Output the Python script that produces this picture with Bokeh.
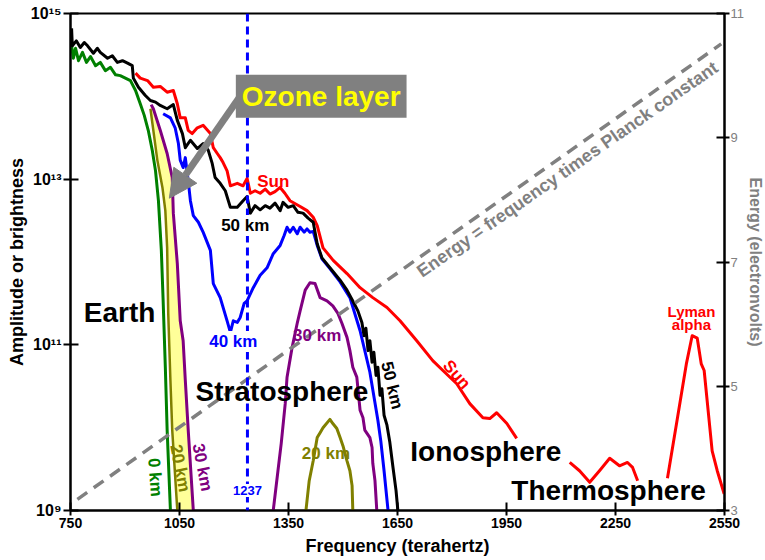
import numpy as np
from bokeh.plotting import figure
from bokeh.models import (Range1d, LinearAxis, LinearScale, FixedTicker, CustomJSTickFormatter,
                          Label, Arrow, NormalHead, Span, Title)
from bokeh.embed import file_html
from bokeh.resources import INLINE

FONT = "Liberation Sans"

# ---------------- data ----------------
freq_ticks = [750, 1050, 1350, 1650, 1950, 2250, 2550]
amp_ticks = [1e9, 1e11, 1e13, 1e15]
energy_ticks = [3, 5, 7, 9, 11]
ionization_freq = 1237

# Earth surface (0 km)
earth_freq = [753, 758, 764, 772, 783, 794, 805, 819, 832, 846, 860, 874, 887, 901, 915, 929,
              942, 953, 964, 975, 984, 992, 1000, 1005, 1011, 1016, 1025]
earth_log_amp = [14.61, 14.46, 14.58, 14.43, 14.53, 14.41, 14.48, 14.37, 14.41, 14.31, 14.35,
                 14.26, 14.25, 14.22, 14.19, 14.07, 13.91, 13.77, 13.59, 13.35, 13.10, 12.74,
                 12.14, 11.53, 10.73, 9.97, 9.00]

# 50 km
km50_freq = [753, 755, 766, 777, 788, 797, 813, 824, 832, 852, 865, 879, 893, 907, 920, 923,
             937, 956, 970, 984, 997, 1016, 1033, 1044, 1058, 1066, 1080, 1099, 1115, 1129,
             1140, 1148, 1162, 1176, 1190, 1209, 1225, 1236, 1245, 1258, 1272, 1286, 1299,
             1313, 1327, 1335, 1349, 1363, 1376, 1390, 1404, 1418, 1429, 1442, 1464, 1492,
             1511, 1527, 1541, 1552, 1558, 1563, 1569, 1574, 1580, 1585, 1591, 1596, 1602,
             1607, 1613, 1621, 1629, 1637, 1646, 1651]
km50_log_amp = [14.82, 14.61, 14.67, 14.59, 14.65, 14.61, 14.52, 14.58, 14.53, 14.46, 14.49,
                14.41, 14.43, 14.40, 14.37, 14.22, 14.11, 14.01, 13.95, 13.93, 13.89, 13.85,
                13.90, 13.71, 13.55, 13.38, 13.47, 13.37, 13.43, 13.35, 13.19, 13.02, 12.95,
                12.86, 12.66, 12.66, 12.74, 12.79, 12.59, 12.68, 12.63, 12.68, 12.65, 12.71,
                12.62, 12.72, 12.66, 12.68, 12.60, 12.59, 12.53, 12.48, 12.22, 12.05, 11.93,
                11.78, 11.66, 11.53, 11.41, 11.27, 11.11, 11.20, 10.93, 11.05, 10.79, 10.91,
                10.63, 10.73, 10.39, 10.47, 10.15, 10.03, 9.82, 9.54, 9.24, 9.00]

# Sun (top of atmosphere)
sun_freq = [929, 942, 962, 978, 997, 1016, 1033, 1044, 1052, 1066, 1074, 1085, 1099, 1115,
            1135, 1143, 1154, 1162, 1170, 1181, 1190, 1209, 1225, 1236, 1245, 1258, 1272,
            1286, 1299, 1313, 1327, 1340, 1354, 1382, 1401, 1418, 1429, 1445, 1473, 1511,
            1547, 1582, 1621, 1657, 1703, 1747, 1775, 1813, 1849, 1885, 1904, 1923, 1951, 1978]
sun_log_amp = [14.28, 14.22, 14.19, 14.11, 14.12, 14.05, 14.07, 13.91, 13.74, 13.74, 13.59,
               13.55, 13.62, 13.65, 13.55, 13.38, 13.31, 13.26, 13.20, 13.10, 12.92, 12.95,
               12.92, 13.01, 12.83, 12.86, 12.83, 12.88, 12.82, 12.85, 12.90, 12.83, 12.74,
               12.67, 12.62, 12.54, 12.44, 12.17, 12.02, 11.86, 11.69, 11.57, 11.45, 11.29,
               11.05, 10.81, 10.69, 10.53, 10.29, 10.12, 10.11, 10.18, 10.05, 9.87]
sun_far_freq = [2124, 2151, 2179, 2206, 2234, 2261, 2283, 2297, 2311]
sun_far_log_amp = [9.58, 9.48, 9.34, 9.48, 9.63, 9.54, 9.58, 9.52, 9.36]
lyman_freq = [2393, 2418, 2445, 2461, 2475, 2486, 2494, 2516, 2530, 2549]
lyman_log_amp = [9.39, 10.05, 10.77, 11.11, 11.08, 10.77, 10.69, 9.72, 9.48, 9.20]

# 40 km
km40_freq = [1005, 1025, 1038, 1047, 1052, 1060, 1066, 1074, 1080, 1088, 1102, 1115, 1135,
             1143, 1162, 1181, 1190, 1198, 1209, 1217, 1228, 1236, 1253, 1272, 1291, 1308,
             1327, 1338, 1346, 1354, 1363, 1374, 1382, 1393, 1401, 1409, 1418, 1429, 1442,
             1464, 1492, 1519, 1547, 1574, 1596, 1604, 1613, 1624]
km40_log_amp = [13.79, 13.74, 13.62, 13.43, 13.23, 13.14, 13.26, 12.98, 12.74, 12.56, 12.48,
                12.36, 12.14, 11.74, 11.57, 11.29, 11.15, 11.29, 11.27, 11.33, 11.50, 11.53,
                11.69, 11.84, 11.93, 12.10, 12.20, 12.32, 12.42, 12.36, 12.42, 12.34, 12.42,
                12.36, 12.40, 12.36, 12.37, 12.20, 12.04, 11.92, 11.76, 11.57, 11.17, 10.67,
                10.09, 9.84, 9.48, 9.00]

# 30 km: ozone-edge branch and high-frequency window
km30_low_freq = [972, 978, 997, 1016, 1030, 1033, 1044, 1052, 1060, 1066, 1074, 1088]
km30_low_log_amp = [13.90, 13.85, 13.59, 13.31, 13.02, 12.59, 11.98, 11.29, 11.05, 10.57,
                    9.97, 9.00]
km30_high_freq = [1308, 1321, 1330, 1341, 1346, 1360, 1374, 1382, 1396, 1409, 1423, 1437,
                  1456, 1472, 1486, 1497, 1511, 1519, 1527, 1538, 1547, 1555, 1560, 1574,
                  1580, 1582, 1588, 1593]
km30_high_log_amp = [9.00, 9.48, 9.81, 10.29, 10.61, 10.97, 11.26, 11.41, 11.66, 11.75, 11.74,
                     11.57, 11.53, 11.47, 11.38, 11.26, 11.09, 10.93, 10.73, 10.61, 10.21,
                     10.12, 9.97, 9.88, 9.76, 9.57, 9.36, 9.00]

# 20 km
km20_low_freq = [970, 978, 989, 1003, 1011, 1016, 1019, 1025, 1030, 1044]
km20_low_log_amp = [13.85, 13.59, 13.23, 12.90, 12.62, 12.17, 11.38, 10.57, 9.97, 9.00]
km20_high_freq = [1398, 1407, 1418, 1429, 1437, 1445, 1464, 1472, 1483, 1492, 1500, 1511,
                  1519, 1525, 1527]
km20_high_log_amp = [9.00, 9.36, 9.60, 9.88, 9.94, 10.00, 10.10, 10.05, 9.99, 9.88, 9.78,
                     9.60, 9.48, 9.30, 9.00]

# Photon energy line (E = h f), in electronvolts
energy_freq = [769, 2541]
energy_ev = [3.18, 10.51]


def amp(logs):
    return [10 ** v for v in logs]


# ---------------- figure ----------------
p = figure(width=765, height=560, y_axis_type="log",
           x_range=Range1d(750, 2550), y_range=Range1d(1e9, 1e15),
           output_backend="svg", toolbar_location=None,
           min_border_left=70, min_border_right=40, min_border_top=13, min_border_bottom=50)
p.extra_y_ranges = {"energy": Range1d(3, 11)}
p.extra_y_scales = {"energy": LinearScale()}
p.grid.visible = False
p.outline_line_color = "black"
p.outline_line_width = 2
p.background_fill_color = "white"
p.border_fill_color = "white"

# axes
xa = p.xaxis[0]
xa.ticker = FixedTicker(ticks=freq_ticks)
ya = p.yaxis[0]
ya.ticker = FixedTicker(ticks=amp_ticks)
ya.formatter = CustomJSTickFormatter(code=r"""
const sup = {'0':'\u2070','1':'\u00b9','2':'\u00b2','3':'\u00b3','4':'\u2074','5':'\u2075','6':'\u2076','7':'\u2077','8':'\u2078','9':'\u2079'};
const e = String(Math.round(Math.log10(tick)));
return '10' + e.split('').map(c => sup[c]).join('');
""")
ra = LinearAxis(y_range_name="energy", ticker=FixedTicker(ticks=energy_ticks))
p.add_layout(ra, "right")

for ax in (xa, ya, ra):
    ax.axis_line_width = 2
    ax.axis_line_color = "black"
    ax.major_tick_line_width = 2
    ax.major_tick_line_color = "black"
    ax.minor_tick_line_color = None
    ax.major_label_text_font = FONT
    ax.major_label_standoff = 2
    ax.axis_label_text_font = FONT
    ax.axis_label_text_font_style = "bold"
    ax.axis_label_text_font_size = "18px"
xa.major_tick_in = 8
xa.major_tick_out = 5
xa.major_label_text_font_size = "14px"
xa.major_label_text_font_style = "bold"
xa.major_label_text_color = "black"
xa.axis_label = "Frequency (terahertz)"
xa.axis_label_text_color = "black"
xa.axis_label_standoff = 5
ya.major_tick_in = 8
ya.major_tick_out = 7
ya.major_label_text_font_size = "16px"
ya.major_label_text_font_style = "bold"
ya.major_label_text_color = "black"
ya.axis_label = "Amplitude or brightness"
ya.axis_label_text_color = "black"
ya.axis_label_standoff = 1
ra.major_tick_in = 8
ra.major_tick_out = 5
ra.major_label_standoff = 1
ra.major_label_text_font_size = "13px"
ra.major_label_text_color = "#808080"

# right-hand axis title (reads top to bottom)
p.add_layout(Title(text="Energy (electronvolts)", align="center", text_font=FONT,
                   text_font_style="bold", text_font_size="16px", text_color="#808080",
                   standoff=0, offset=0), "right")

# ---------------- marks ----------------
# ozone band between 20 km and 30 km low-frequency edges
p.patch(km20_low_freq + km30_low_freq[::-1], amp(km20_low_log_amp + km30_low_log_amp[::-1]),
        fill_color="#ffff99", line_color=None)

lw = 3
p.line(earth_freq, amp(earth_log_amp), line_color="#008000", line_width=lw, line_join="round")
p.line(km20_low_freq, amp(km20_low_log_amp), line_color="#808000", line_width=2.5, line_join="round")
p.line(km30_low_freq, amp(km30_low_log_amp), line_color="#800080", line_width=lw, line_join="round")
p.line(km20_high_freq, amp(km20_high_log_amp), line_color="#808000", line_width=lw, line_join="round")
p.line(km30_high_freq, amp(km30_high_log_amp), line_color="#800080", line_width=lw, line_join="round")
p.line(km40_freq, amp(km40_log_amp), line_color="#0000ff", line_width=lw, line_join="round")
p.line(sun_freq, amp(sun_log_amp), line_color="#ff0000", line_width=lw, line_join="round")
p.line(sun_far_freq, amp(sun_far_log_amp), line_color="#ff0000", line_width=lw, line_join="round")
p.line(lyman_freq, amp(lyman_log_amp), line_color="#ff0000", line_width=lw, line_join="round")
p.line(km50_freq, amp(km50_log_amp), line_color="#000000", line_width=lw, line_join="round")

p.line(energy_freq, energy_ev, y_range_name="energy", line_color="#808080",
       line_width=3.5, line_dash="12 8")

p.add_layout(Span(location=ionization_freq, dimension="height", line_color="#0000ff",
                  line_width=3, line_dash="8 5"))

# ---------------- annotations ----------------
def lab(x, logy, text, size, color="black", angle=0.0, bold=True, bg=None, pad=0):
    kw = {}
    if bg is not None:
        kw["background_fill_color"] = bg
        kw["padding"] = pad
    l = Label(x=x, y=10 ** logy, text=text, text_font=FONT,
              text_font_style="bold" if bold else "normal",
              text_font_size=size, text_color=color, text_align="center",
              text_baseline="middle", angle=angle, **kw)
    p.add_layout(l)
    return l

lab(885, 11.39, "Earth", "28px")
lab(1332, 10.44, "Stratosphere", "28px")
lab(1893, 9.71, "Ionosphere", "28px")
lab(2231, 9.24, "Thermosphere", "28px")
lab(2459, 11.40, "Lyman", "15px", color="#ff0000")
lab(2459, 11.24, "alpha", "15px", color="#ff0000")
lab(1308, 12.97, "Sun", "17px", color="#ff0000")
lab(1231, 12.44, "50 km", "17px", bg="white", pad=1)
lab(1198, 11.04, "40 km", "17px", color="#0000ff", bg="white", pad=1)
lab(1429, 11.11, "30 km", "17px", color="#800080")
lab(1453, 9.69, "20 km", "17px", color="#808000")
lab(1635, 10.51, "50 km", "17px", angle=-1.33)
lab(1813, 10.64, "Sun", "17px", color="#ff0000", angle=-0.86)
lab(983, 9.40, "0 km", "17px", color="#008000", angle=-1.50)
lab(1052, 9.51, "20 km", "17px", color="#808000", angle=-1.38)
lab(1113, 9.52, "30 km", "17px", color="#800080", angle=-1.38)
lab(1237, 9.24, "1237", "13px", color="#0000ff", bg="white", pad=2)
lab(2118, 13.12, "Energy = frequency times Planck constant", "18px", color="#808080", angle=0.61)

# Ozone layer callout
p.add_layout(Arrow(end=NormalHead(size=28, fill_color="#808080", line_color="#808080"),
                   x_start=1231, y_start=10 ** 14.09, x_end=1022, y_end=10 ** 12.77,
                   line_color="#808080", line_width=7))
lab(1440, 14.00, "Ozone layer", "28px", color="#ffff00", bg="#808080", pad=6)

open("out.html", "w").write(file_html(p, INLINE))
